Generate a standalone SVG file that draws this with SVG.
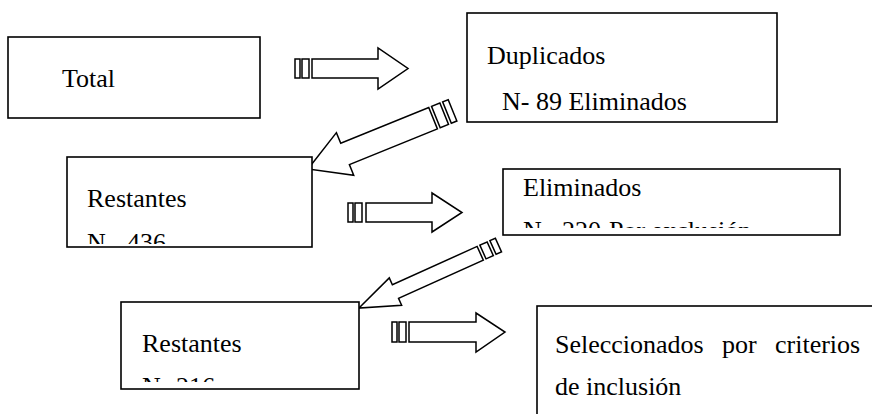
<svg xmlns="http://www.w3.org/2000/svg" width="872" height="414" viewBox="0 0 872 414">
<style>
.box{fill:#fff;stroke:#000;stroke-width:1.6}
.t{font-family:'Liberation Serif','Times New Roman','DejaVu Serif',serif;font-size:26px;fill:#000}
.ar{fill:#fff;stroke:#000;stroke-width:1.5;stroke-linejoin:miter}
</style>
<defs>
<clipPath id="c1"><rect x="60" y="150" width="260" height="94"/></clipPath>
<clipPath id="c2"><rect x="500" y="160" width="360" height="68"/></clipPath>
<clipPath id="c3"><rect x="115" y="295" width="250" height="87"/></clipPath>
</defs>
<rect width="872" height="414" fill="#fff"/>
<g id="connectors">
<g id="a1">
<rect class="ar" x="295" y="59" width="5" height="19"/>
<rect class="ar" x="302" y="59" width="7" height="19"/>
<polygon class="ar" points="312,59 378,59 378,48 408,68.5 378,89 378,78 312,78"/>
</g>
<g id="a2">
<rect class="ar" x="348" y="203" width="5" height="19"/>
<rect class="ar" x="355" y="203" width="7" height="19"/>
<polygon class="ar" points="366,203 432,203 432,193 462,212.5 432,232 432,222 366,222"/>
</g>
<g id="a3">
<rect class="ar" x="392" y="322" width="5" height="20"/>
<rect class="ar" x="399" y="322" width="7" height="20"/>
<polygon class="ar" points="409,322 476,322 476,313 505,332 476,352 476,342 409,342"/>
</g>
<g id="a4" transform="translate(308,169) rotate(-22.1)">
<polygon class="ar" points="0,0 40,-23 40,-11.5 135,-11.5 135,11.5 40,11.5 40,23"/>
<rect class="ar" x="138" y="-11.5" width="9" height="23"/>
<rect class="ar" x="150" y="-11.5" width="6" height="23"/>
</g>
<g id="a5" transform="translate(359,308) rotate(-24.3)">
<polygon class="ar" points="0,0 40,-15 40,-7.5 133,-7.5 133,7.5 40,7.5 40,15"/>
<rect class="ar" x="136" y="-7.5" width="8" height="15"/>
<rect class="ar" x="147" y="-7.5" width="6" height="15"/>
</g>
</g>
<g id="total">
<rect class="box" x="8" y="37" width="252" height="81"/>
<text class="t" x="62" y="87">Total</text>
</g>
<g id="duplicados">
<rect class="box" x="467" y="13" width="310" height="109"/>
<text class="t" x="487" y="64">Duplicados</text>
<text class="t" x="502" y="110">N- 89 Eliminados</text>
</g>
<g id="restantes1">
<rect class="box" x="67" y="157" width="245" height="90"/>
<text class="t" x="87" y="207">Restantes</text>
<text class="t" x="87" y="251" clip-path="url(#c1)">N- <tspan x="127">436</tspan></text>
</g>
<g id="eliminados">
<rect class="box" x="503" y="169" width="337" height="66"/>
<text class="t" x="523" y="196">Eliminados</text>
<text class="t" x="523" y="239" clip-path="url(#c2)">N- <tspan x="562">220</tspan> <tspan x="609">Por exclusión</tspan></text>
</g>
<g id="restantes2">
<rect class="box" x="121" y="302" width="238" height="87"/>
<text class="t" x="142" y="352">Restantes</text>
<text class="t" x="142" y="395" clip-path="url(#c3)">N- 216</text>
</g>
<g id="seleccionados">
<rect class="box" x="537" y="306" width="400" height="150"/>
<text class="t" x="555" y="353">Seleccionados <tspan x="722">por</tspan> <tspan x="775">criterios</tspan></text>
<text class="t" x="555" y="395">de inclusión</text>
</g>
</svg>
